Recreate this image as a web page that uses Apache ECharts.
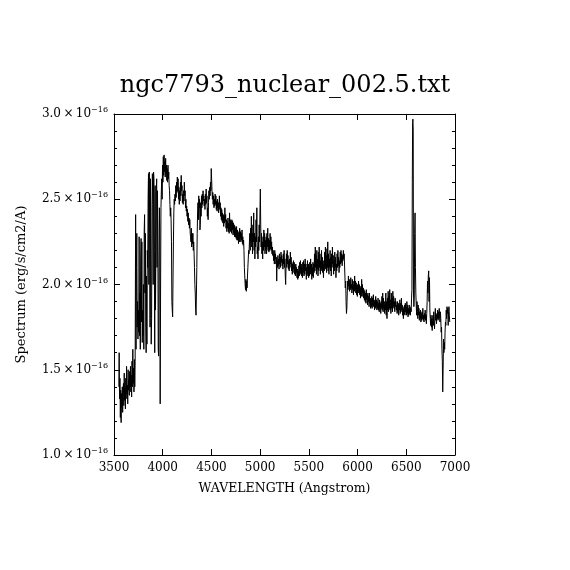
<!DOCTYPE html>
<html>
<head>
<meta charset="utf-8">
<script src="https://cdn.jsdelivr.net/npm/echarts@6/dist/echarts.min.js"></script>
<style>
html,body{margin:0;padding:0;background:#fff;}
#chart{width:570px;height:570px;}
</style>
</head>
<body>
<div id="chart"></div>
<script>
// Flux in units of 1e-16 erg/s/cm2/A, as [wavelength (Angstrom), flux]
const uvRise = [
[3550,1.40],[3553,1.60],[3557,1.33],[3561,1.45],[3565,1.22],[3569,1.38],[3573,1.19],[3577,1.36],
[3581,1.28],[3585,1.40],[3589,1.25],[3593,1.36],[3597,1.42],[3601,1.29],[3605,1.48],[3609,1.32],
[3613,1.40],[3617,1.27],[3621,1.45],[3625,1.33],[3629,1.52],[3633,1.36],[3637,1.41],[3641,1.30],
[3645,1.50],[3649,1.38],[3653,1.44],[3657,1.35],[3661,1.49],[3665,1.40],[3669,1.52],[3673,1.37],
[3677,1.47],[3681,1.34],[3685,1.55],[3689,1.40],[3693,1.62],[3697,1.42],[3701,1.51],[3705,1.37],
[3709,1.56],[3713,1.40]
];
const balmerBreak = [
[3717,1.55],[3722,2.41],[3726,1.62],[3730,2.10],[3734,2.30],[3738,1.75],[3742,1.90],[3746,1.68],
[3750,1.85],[3754,1.72],[3758,2.28],[3762,1.70],[3766,1.95],[3770,1.62],[3774,2.15],[3778,2.27],
[3782,1.78],[3786,2.25],[3790,1.66],[3794,1.85],[3798,1.70],[3802,2.00],[3806,1.62],[3810,2.31],
[3814,2.41],[3818,1.95],[3822,2.30],[3826,1.75],[3830,1.60],[3834,2.05],[3838,1.65],[3842,2.20],
[3846,2.10],[3850,2.50],[3854,2.65],[3858,2.00],[3862,2.66],[3866,2.30],[3870,1.75],[3874,2.62],
[3878,1.95],[3882,1.65],[3886,1.80],[3890,2.45],[3894,2.65],[3898,2.47],[3902,2.00],[3906,2.66],
[3910,2.62],[3914,2.20],[3918,1.60],[3922,2.58],[3926,1.85],[3930,2.20],[3934,2.55],[3938,2.62],
[3942,2.10],[3946,2.55],[3950,2.30],[3954,1.62],[3958,1.58],[3962,2.10],[3966,2.45],[3970,2.30],
[3974,1.30],[3978,1.95],[3982,2.45],[3986,2.55],[3990,2.62],[3994,2.50]
];
const blueContinuum = [
[3998,2.70],[4002,2.60],[4006,2.75],[4010,2.64],[4014,2.76],[4018,2.66],[4022,2.72],[4026,2.63],
[4030,2.74],[4034,2.65],[4038,2.70],[4042,2.61],[4046,2.68],[4050,2.60],[4054,2.70],[4058,2.62],
[4062,2.66],[4066,2.58],[4070,2.55],[4074,2.47],[4078,2.40],[4082,2.45],[4086,2.38],[4090,2.25],
[4094,1.90],[4098,1.85],[4102,1.81],[4106,2.05],[4110,2.25],[4114,2.42],[4118,2.50],[4122,2.47],
[4126,2.53],[4130,2.49],[4134,2.58],[4138,2.51],[4142,2.60],[4146,2.54],[4150,2.63],[4154,2.55],
[4158,2.62],[4162,2.50],[4166,2.57],[4170,2.47],[4174,2.55],[4178,2.49],[4182,2.60],[4186,2.52],
[4190,2.64],[4194,2.55],[4198,2.58],[4202,2.48],[4206,2.53],[4210,2.47],[4214,2.55],[4218,2.49],
[4222,2.60],[4226,2.52],[4230,2.55],[4234,2.45],[4238,2.50],[4242,2.43],[4246,2.46],[4250,2.40],
[4254,2.44],[4258,2.37],[4262,2.42],[4266,2.35],[4270,2.39],[4274,2.33],[4278,2.38],[4282,2.30],
[4286,2.28],[4290,2.25],[4294,2.33],[4298,2.22],[4302,2.30],[4306,2.24],[4310,2.30],[4314,2.20],
[4318,2.25],[4322,2.18],[4326,2.10],[4330,2.00],[4334,1.95],[4338,1.85],[4342,1.82],[4346,1.95],
[4350,2.10],[4354,2.30],[4358,2.42],[4362,2.48]
];
const hbetaRegion = [
[4366,2.38],[4370,2.52],[4374,2.45],[4378,2.50],[4382,2.32],[4386,2.35],[4390,2.48],[4394,2.40],
[4398,2.52],[4402,2.45],[4406,2.53],[4410,2.47],[4414,2.55],[4418,2.49],[4422,2.52],[4426,2.46],
[4430,2.50],[4434,2.44],[4438,2.53],[4442,2.47],[4446,2.56],[4450,2.48],[4454,2.52],[4458,2.40],
[4462,2.45],[4466,2.38],[4470,2.48],[4474,2.55],[4478,2.50],[4482,2.57],[4486,2.52],[4490,2.60],
[4494,2.55],[4498,2.68],[4502,2.62],[4506,2.55],[4510,2.50],[4514,2.54],[4518,2.47],[4522,2.52],
[4526,2.45],[4530,2.50],[4534,2.46],[4538,2.53],[4542,2.47],[4546,2.52],[4550,2.44],[4554,2.49],
[4558,2.43],[4562,2.50],[4566,2.45],[4570,2.48],[4574,2.42],[4578,2.47],[4582,2.52],[4586,2.44],
[4590,2.48],[4594,2.40],[4598,2.45],[4602,2.38],[4606,2.44],[4610,2.37],[4614,2.42],[4618,2.36],
[4622,2.41],[4626,2.34],[4630,2.40],[4634,2.36],[4638,2.45],[4642,2.37],[4646,2.41],[4650,2.33],
[4654,2.38],[4658,2.31],[4662,2.37],[4666,2.33],[4670,2.39],[4674,2.31],[4678,2.36],[4682,2.30],
[4686,2.42],[4690,2.32],[4694,2.38],[4698,2.31],[4702,2.37],[4706,2.30],[4710,2.38],[4714,2.32],
[4718,2.37],[4722,2.29],[4726,2.36],[4730,2.30],[4734,2.35],[4738,2.28],[4742,2.34],[4746,2.28],
[4750,2.33],[4754,2.27],[4758,2.34],[4762,2.26],[4766,2.32],[4770,2.26],[4774,2.31],[4778,2.24],
[4782,2.30],[4786,2.25],[4790,2.33],[4794,2.27],[4798,2.31],[4802,2.25],[4806,2.30],[4810,2.26],
[4814,2.32],[4818,2.24],[4822,2.28],[4826,2.23],[4830,2.26],[4834,2.20],[4838,2.10],[4842,2.05],
[4846,2.00],[4850,1.97],[4854,2.03],[4858,1.96],[4862,2.02],[4866,1.98],[4870,2.05],[4874,2.10],
[4878,2.15],[4882,2.20],[4886,2.18],[4890,2.25],[4894,2.30],[4898,2.20],[4902,2.33],[4906,2.25],
[4910,2.40],[4914,2.22],[4918,2.30],[4922,2.18],[4926,2.35],[4930,2.25],[4934,2.42],[4938,2.20],
[4942,2.30],[4946,2.15],[4950,2.28],[4954,2.22],[4958,2.38],[4962,2.25],[4966,2.45],[4970,2.18],
[4974,2.22],[4978,2.15],[4982,2.28],[4986,2.20],[4990,2.35],[4994,2.25],[4998,2.42],[5002,2.56],
[5006,2.35],[5010,2.22],[5014,2.30],[5018,2.18],[5022,2.25],[5026,2.15],[5030,2.28],[5034,2.20],
[5038,2.32],[5042,2.22],[5046,2.30],[5050,2.18],[5054,2.26],[5058,2.20],[5062,2.28],[5066,2.18],
[5070,2.30],[5074,2.22],[5078,2.33],[5082,2.20],[5086,2.27],[5090,2.19],[5094,2.26],[5098,2.20],
[5102,2.30],[5106,2.21],[5110,2.28],[5114,2.20],[5118,2.25],[5122,2.18],[5126,2.22],[5130,2.17],
[5134,2.20],[5138,2.14],[5142,2.18],[5146,2.12],[5150,2.20],[5154,2.15],[5158,2.18],[5162,2.12],
[5166,2.16]
];
const greenContinuum = [
[5170,2.02],[5174,2.14],[5178,2.10],[5182,2.17],[5186,2.11],[5190,2.15],[5194,2.09],[5198,2.18],
[5202,2.12],[5206,2.16],[5210,2.10],[5214,2.19],[5218,2.13],[5222,2.17],[5226,2.11],[5230,2.15],
[5234,2.09],[5238,2.18],[5242,2.12],[5246,2.20],[5250,2.10],[5254,2.15],[5258,2.05],[5262,2.00],
[5266,2.12],[5270,2.18],[5274,2.10],[5278,2.20],[5282,2.12],[5286,2.17],[5290,2.09],[5294,2.14],
[5298,2.08],[5302,2.15],[5306,2.10],[5310,2.19],[5314,2.12],[5318,2.16],[5322,2.08],[5326,2.13],
[5330,2.06],[5334,2.12],[5338,2.07],[5342,2.14],[5346,2.09],[5350,2.13],[5354,2.06],[5358,2.11],
[5362,2.05],[5366,2.12],[5370,2.07],[5374,2.10],[5378,2.04],[5382,2.09],[5386,2.03],[5390,2.08],
[5394,2.04],[5398,2.11],[5402,2.05],[5406,2.13],[5410,2.07],[5414,2.14],[5418,2.06],[5422,2.12],
[5426,2.05],[5430,2.10],[5434,2.04],[5438,2.13],[5442,2.07],[5446,2.14],[5450,2.05],[5454,2.12],
[5458,2.06],[5462,2.15],[5466,2.08],[5470,2.12],[5474,2.03],[5478,2.10],[5482,2.05],[5486,2.14],
[5490,2.06],[5494,2.12],[5498,2.04],[5502,2.11],[5506,2.05],[5510,2.13],[5514,2.06],[5518,2.15],
[5522,2.07],[5526,2.12],[5530,2.03],[5534,2.10],[5538,2.05],[5542,2.13],[5546,2.04],[5550,2.12],
[5554,2.07],[5558,2.18],[5562,2.08],[5566,2.22],[5570,2.10],[5574,2.17],[5578,2.06],[5582,2.20],
[5586,2.09],[5590,2.15],[5594,2.05],[5598,2.19],[5602,2.08],[5606,2.22],[5610,2.10],[5614,2.18],
[5618,2.06],[5622,2.14],[5626,2.08],[5630,2.20],[5634,2.09],[5638,2.16],[5642,2.07],[5646,2.12],
[5650,2.04],[5654,2.14],[5658,2.08],[5662,2.19],[5666,2.10],[5670,2.22],[5674,2.09],[5678,2.17],
[5682,2.07],[5686,2.21],[5690,2.10],[5694,2.25],[5698,2.08],[5702,2.18],[5706,2.06],[5710,2.15],
[5714,2.10],[5718,2.20],[5722,2.08],[5726,2.16],[5730,2.05],[5734,2.18],[5738,2.10],[5742,2.22],
[5746,2.12],[5750,2.17],[5754,2.06],[5758,2.14],[5762,2.08],[5766,2.19],[5770,2.10],[5774,2.16],
[5778,2.04],[5782,2.12],[5786,2.08],[5790,2.18],[5794,2.10],[5798,2.20],[5802,2.11],[5806,2.16],
[5810,2.07],[5814,2.14],[5818,2.10],[5822,2.19],[5826,2.12],[5830,2.20],[5834,2.13],[5838,2.18],
[5842,2.11],[5846,2.17],[5850,2.14],[5854,2.20],[5858,2.15],[5862,2.18],[5866,2.12]
];
const redContinuum = [
[5870,2.05],[5874,1.98],[5878,2.02],[5882,1.90],[5886,1.83],[5890,1.86],[5894,1.95],[5898,2.02],
[5902,1.97],[5906,2.05],[5910,1.99],[5914,2.03],[5918,1.96],[5922,2.02],[5926,1.97],[5930,2.04],
[5934,1.98],[5938,2.00],[5942,1.95],[5946,2.03],[5950,1.97],[5954,2.02],[5958,1.94],[5962,2.00],
[5966,1.96],[5970,2.05],[5974,1.97],[5978,2.02],[5982,1.95],[5986,2.01],[5990,1.94],[5994,1.99],
[5998,1.93],[6002,2.00],[6006,1.95],[6010,2.02],[6014,1.96],[6018,2.00],[6022,1.94],[6026,1.99],
[6030,1.92],[6034,1.98],[6038,1.93],[6042,2.03],[6046,1.95],[6050,2.00],[6054,1.93],[6058,1.98],
[6062,1.92],[6066,1.97],[6070,1.91],[6074,1.96],[6078,1.90],[6082,1.95],[6086,1.89],[6090,1.97],
[6094,1.91],[6098,1.94],[6102,1.88],[6106,1.95],[6110,1.90],[6114,1.93],[6118,1.87],[6122,1.95],
[6126,1.89],[6130,1.92],[6134,1.86],[6138,1.91],[6142,1.87],[6146,1.93],[6150,1.86],[6154,1.92],
[6158,1.88],[6162,1.94],[6166,1.87],[6170,1.91],[6174,1.85],[6178,1.90],[6182,1.86],[6186,1.93],
[6190,1.87],[6194,1.91],[6198,1.85],[6202,1.90],[6206,1.86],[6210,1.92],[6214,1.85],[6218,1.89],
[6222,1.84],[6226,1.91],[6230,1.86],[6234,1.89],[6238,1.83],[6242,1.90],[6246,1.86],[6250,1.93],
[6254,1.85],[6258,1.95],[6262,1.84],[6266,1.92],[6270,1.86],[6274,1.90],[6278,1.83],[6282,1.88],
[6286,1.85],[6290,1.95],[6294,1.82],[6298,1.90],[6302,1.80],[6306,1.92],[6310,1.85],[6314,1.96],
[6318,1.84],[6322,1.93],[6326,1.86],[6330,1.97],[6334,1.85],[6338,1.91],[6342,1.83],[6346,1.95],
[6350,1.86],[6354,1.92],[6358,1.84],[6362,1.96],[6366,1.87],[6370,1.93],[6374,1.86],[6378,1.90],
[6382,1.84],[6386,1.92],[6390,1.87],[6394,1.90],[6398,1.85],[6402,1.88],[6406,1.83],[6410,1.90],
[6414,1.84],[6418,1.89],[6422,1.82],[6426,1.88],[6430,1.85],[6434,1.91],[6438,1.83],[6442,1.89],
[6446,1.84],[6450,1.92],[6454,1.85],[6458,1.88],[6462,1.82],[6466,1.87],[6470,1.80],[6474,1.86],
[6478,1.83],[6482,1.88],[6486,1.82],[6490,1.89],[6494,1.84],[6498,1.87],[6502,1.82],[6506,1.90],
[6510,1.83],[6514,1.88],[6518,1.81],[6522,1.86],[6526,1.82],[6530,1.88],[6534,1.83],[6538,1.87],
[6542,1.82],[6546,1.86]
];
const halphaRegion = [
[6550,1.84],[6554,1.92],[6558,1.97],[6562,2.60],[6565,2.95],[6568,2.97],[6571,2.90],[6574,1.95],
[6578,1.87],[6582,1.92],[6586,2.30],[6590,2.42],[6594,2.10],[6598,1.95],[6602,1.88],[6606,1.82],
[6610,1.90],[6614,1.84],[6618,1.80],[6622,1.88],[6626,1.82],[6630,1.86],[6634,1.79],[6638,1.84],
[6642,1.80],[6646,1.85],[6650,1.78],[6654,1.83],[6658,1.79],[6662,1.84],[6666,1.80],[6670,1.86],
[6674,1.79],[6678,1.82],[6682,1.78],[6686,1.83],[6690,1.80],[6694,1.85],[6698,1.79],[6702,1.82],
[6706,1.77],[6710,1.83],[6714,1.90],[6718,2.02],[6722,1.95],[6726,2.05],[6730,2.08],[6734,1.90],
[6738,2.04],[6742,1.85],[6746,1.80],[6750,1.76],[6754,1.82],[6758,1.75],[6762,1.80],[6766,1.73],
[6770,1.79],[6774,1.82],[6778,1.76],[6782,1.84],[6786,1.78],[6790,1.74],[6794,1.80],[6798,1.86],
[6802,1.79],[6806,1.83],[6810,1.77],[6814,1.82],[6818,1.80],[6822,1.85],[6826,1.79],[6830,1.84],
[6834,1.80],[6838,1.86],[6842,1.81],[6846,1.78],[6850,1.84],[6854,1.80],[6858,1.72],[6862,1.75],
[6866,1.62],[6870,1.55],[6874,1.37],[6878,1.50],[6882,1.68],[6886,1.60],[6890,1.66],[6894,1.62],
[6898,1.72],[6902,1.78],[6906,1.76],[6910,1.85],[6914,1.80],[6918,1.87],[6922,1.83],[6926,1.86],
[6930,1.76],[6934,1.84],[6938,1.87],[6942,1.82],[6946,1.78]
];
const titleText = 'ngc7793_nuclear_002.5.txt';
const xName = 'WAVELENGTH (Angstrom)';
const yName = 'Spectrum (erg/s/cm2/A)';
const yExponent = '\u221216';

const spectrum = [].concat(uvRise, balmerBreak, blueContinuum, hbetaRegion, greenContinuum, redContinuum, halphaRegion);

const FONT = 'DejaVu Serif';
const chart = echarts.init(document.getElementById('chart'), null, {renderer: 'canvas'});
const axisCommon = {
  axisLine: {show: true, onZero: false, lineStyle: {color: '#000', width: 1}},
  splitLine: {show: false}
};
chart.setOption({
  animation: false,
  backgroundColor: '#fff',
  title: {
    text: titleText, left: 'center', top: 69,
    textStyle: {fontFamily: FONT, fontSize: 24, fontWeight: 'normal', color: '#000'}
  },
  grid: {left: 114, top: 114, width: 341, height: 341, containLabel: false},
  xAxis: [
    Object.assign({
      type: 'value', min: 3500, max: 7000, interval: 500, position: 'bottom',
      name: xName, nameLocation: 'middle', nameGap: 27,
      nameTextStyle: {fontFamily: FONT, fontSize: 12.5, color: '#000'},
      axisTick: {show: true, inside: true, length: 6, lineStyle: {color: '#000'}},
      axisLabel: {show: true, margin: 7, fontFamily: FONT, fontSize: 12, color: '#000',
        formatter: function (v) { return String(v); }}
    }, axisCommon),
    Object.assign({
      type: 'value', min: 3500, max: 7000, interval: 500, position: 'top',
      axisTick: {show: true, inside: true, length: 6, lineStyle: {color: '#000'}},
      axisLabel: {show: false}
    }, axisCommon)
  ],
  yAxis: [
    Object.assign({
      type: 'value', min: 1.0, max: 3.0, interval: 0.5, position: 'left',
      name: yName, nameLocation: 'middle', nameGap: 86, nameRotate: 90,
      nameTextStyle: {fontFamily: FONT, fontSize: 13, color: '#000'},
      axisTick: {show: true, inside: true, length: 6, lineStyle: {color: '#000'}},
      minorTick: {show: true, splitNumber: 5, length: 3, lineStyle: {color: '#000'}},
      axisLabel: {
        show: true, margin: 6,
        formatter: function (v) { return '{m|' + v.toFixed(1) + '\u2009\u00d7\u200910}{s|' + yExponent + '}'; },
        rich: {
          m: {fontFamily: FONT, fontSize: 12, color: '#000', lineHeight: 16},
          s: {fontFamily: FONT, fontSize: 8, color: '#000', verticalAlign: 'top', lineHeight: 16}
        }
      }
    }, axisCommon),
    Object.assign({
      type: 'value', min: 1.0, max: 3.0, interval: 0.5, position: 'right',
      axisTick: {show: true, inside: true, length: 6, lineStyle: {color: '#000'}},
      minorTick: {show: true, splitNumber: 5, length: 3, lineStyle: {color: '#000'}},
      axisLabel: {show: false}
    }, axisCommon)
  ],
  series: [{
    type: 'line', data: spectrum, xAxisIndex: 0, yAxisIndex: 0,
    showSymbol: false, symbol: 'none', smooth: false,
    lineStyle: {color: '#000', width: 1}, clip: true
  }]
});
</script>
</body>
</html>
